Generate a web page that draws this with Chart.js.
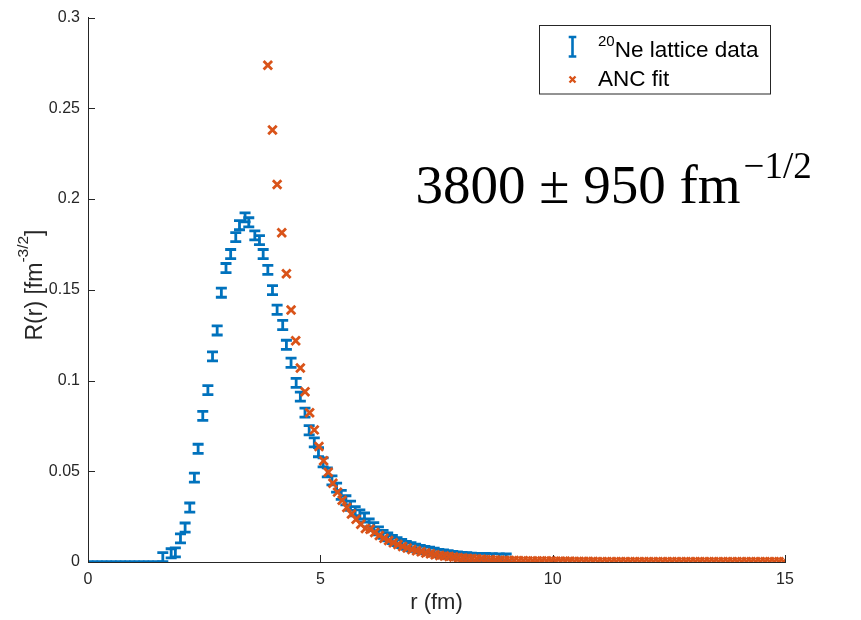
<!DOCTYPE html>
<html>
<head>
<meta charset="utf-8">
<script src="https://cdn.jsdelivr.net/npm/chart.js@4.4.1/dist/chart.umd.min.js"></script>
<style>
  html, body { margin: 0; padding: 0; background: #ffffff; }
  #wrap { width: 861px; height: 620px; }
</style>
</head>
<body>
<div id="wrap"><canvas id="c" width="861" height="620"></canvas></div>
<script>
// ---------------- data ----------------
const latticeR = [
  0.0, 0.1, 0.2, 0.3, 0.4, 0.5, 0.6, 0.7, 0.8, 0.9, 1.0, 1.1, 1.2, 1.3, 1.4, 1.5,
  1.61, 1.79, 1.88, 1.99, 2.09, 2.19, 2.29, 2.37, 2.47, 2.58, 2.68, 2.78, 2.87, 2.97,
  3.07, 3.18, 3.26, 3.38, 3.46, 3.59, 3.69, 3.77, 3.87, 3.97, 4.07, 4.19, 4.27, 4.37,
  4.48, 4.57, 4.67, 4.76, 4.87, 4.96, 5.06, 5.15, 5.25, 5.35, 5.45, 5.55, 5.65, 5.75,
  5.85, 5.95, 6.05, 6.15, 6.25, 6.35, 6.45, 6.55, 6.65, 6.75, 6.85, 6.95, 7.05, 7.15,
  7.25, 7.35, 7.45, 7.55, 7.65, 7.75, 7.85, 7.95, 8.05, 8.15, 8.25, 8.4, 8.55, 8.7,
  8.85, 9.0
];
const latticeValue = [
  0, 0, 0, 0, 0, 0, 0, 0, 0, 0, 0, 0, 0, 0, 0, 0,
  0.0027, 0.0048, 0.0053, 0.0130, 0.0190, 0.0300, 0.0465, 0.0624, 0.0805, 0.0947, 0.1133, 0.1276, 0.1484, 0.1620,
  0.1697, 0.1790, 0.1856, 0.1899, 0.1872, 0.1800, 0.1774, 0.1697, 0.1610, 0.1498, 0.1390, 0.1306, 0.1197, 0.1098,
  0.0987, 0.0911, 0.0823, 0.0726, 0.0659, 0.0605, 0.0549, 0.0494, 0.0450, 0.0410, 0.0370, 0.0340, 0.0310, 0.0280,
  0.0262, 0.0245, 0.0215, 0.0195, 0.0172, 0.0152, 0.0138, 0.0124, 0.0112, 0.0102, 0.0092, 0.0084, 0.0078, 0.0072,
  0.0066, 0.0062, 0.0056, 0.0050, 0.0046, 0.0042, 0.0039, 0.0036, 0.0033, 0.0031, 0.0029, 0.0028, 0.0027, 0.0026,
  0.0025, 0.0024
];
const latticeError = [
  0, 0, 0, 0, 0, 0, 0, 0, 0, 0, 0, 0, 0, 0, 0, 0,
  0.0025, 0.0025, 0.0025, 0.0025, 0.0025, 0.0025, 0.0025, 0.0025, 0.0025, 0.0025, 0.0025, 0.0025, 0.0025, 0.0025,
  0.0025, 0.0025, 0.0025, 0.0025, 0.0025, 0.0025, 0.0025, 0.0025, 0.0025, 0.0025, 0.0025, 0.0025, 0.0025, 0.0025,
  0.0025, 0.0025, 0.0025, 0.0025, 0.0025, 0.0025, 0.0025, 0.0025, 0.0025, 0.0025, 0.0025, 0.0025, 0.0025, 0.0025,
  0.0025, 0.0025, 0.0022, 0.0022, 0.0022, 0.0022, 0.0022, 0.0022, 0.0022, 0.0022, 0.0022, 0.0022, 0.0020, 0.0020,
  0.0020, 0.0020, 0.0020, 0.0020, 0.0020, 0.0020, 0.0020, 0.0020, 0.0020, 0.0020, 0.0020, 0.0020, 0.0020, 0.0020,
  0.0020, 0.0020
];

const ancR = [
  3.87, 3.97, 4.07, 4.17, 4.27, 4.37, 4.47, 4.57, 4.67, 4.77, 4.87, 4.97, 5.07, 5.17, 5.27, 5.37,
  5.47, 5.57, 5.67, 5.77, 5.87, 5.97, 6.07, 6.17, 6.27, 6.37, 6.47, 6.57, 6.67, 6.77, 6.87, 6.97,
  7.07, 7.17, 7.27, 7.37, 7.47, 7.57, 7.67, 7.77, 7.87, 7.97, 8.07, 8.17, 8.27, 8.37, 8.47, 8.57,
  8.67, 8.77, 8.87, 8.97, 9.07, 9.17, 9.27, 9.37, 9.47, 9.57, 9.67, 9.77, 9.87, 9.97, 10.07, 10.17,
  10.27, 10.37, 10.47, 10.57, 10.67, 10.77, 10.87, 10.97, 11.07, 11.17, 11.27, 11.37, 11.47, 11.57, 11.67, 11.77,
  11.87, 11.97, 12.07, 12.17, 12.27, 12.37, 12.47, 12.57, 12.67, 12.77, 12.87, 12.97, 13.07, 13.17, 13.27, 13.37,
  13.47, 13.57, 13.67, 13.77, 13.87, 13.97, 14.07, 14.17, 14.27, 14.37, 14.47, 14.57, 14.67, 14.77, 14.87, 14.97
];
const ancValue = [
  0.2737, 0.2381, 0.2080, 0.1814, 0.1589, 0.1389, 0.1219, 0.1069, 0.0938, 0.0823, 0.0728, 0.0637, 0.0558, 0.0494, 0.0434, 0.0385,
  0.0340, 0.0300, 0.0265, 0.0235, 0.0208, 0.0184, 0.0180, 0.0162, 0.0146, 0.0131, 0.0118, 0.0106, 0.0096, 0.0086, 0.0077, 0.0069,
  0.0062, 0.0056, 0.0050, 0.0045, 0.0040, 0.0036, 0.0033, 0.0030, 0.0027, 0.0024, 0.0022, 0.0020, 0.0018, 0.0016, 0.0015, 0.0013,
  0.0012, 0.0011, 0.0010, 0.0009, 0.0008, 0.0008, 0.0007, 0.0007, 0.0006, 0.0006, 0.0006, 0.0005, 0.0005, 0.0005, 0.0004, 0.0004,
  0.0004, 0.0004, 0.0003, 0.0003, 0.0003, 0.0003, 0.0003, 0.0002, 0.0002, 0.0002, 0.0002, 0.0002, 0.0002, 0.0002, 0.0001, 0.0001,
  0.0001, 0.0001, 0.0001, 0.0001, 0.0001, 0.0001, 0.0001, 0.0001, 0.0001, 0.0001, 0.0001, 0.0001, 0.0001, 0.0001, 0.0001, 0.0001,
  0.0001, 0.0001, 0.0001, 0.0001, 0.0001, 0.0001, 0.0001, 0.0001, 0.0001, 0.0001, 0.0001, 0.0001, 0.0001, 0.0001, 0.0001, 0.0001
];

const xTickLabels = ['0', '5', '10', '15'];
const yTickLabels = ['0', '0.05', '0.1', '0.15', '0.2', '0.25', '0.3'];
const latticeLabelSup = '20';
const latticeLabelMain = 'Ne lattice data';
const ancLabel = 'ANC fit';
const xTitle = 'r (fm)';
const yTitleMain = 'R(r) [fm';
const yTitleSup = '-3/2';
const yTitleEnd = ']';
const annotationMain = '3800 \u00B1 950 fm';
const annotationSup = '\u22121/2';

// ---------------- styles ----------------
const BLUE = '#0072BD';
const ORANGE = '#D95319';
const AXIS = '#262626';
const TXT = '#262626';
const SANS = '"Liberation Sans", Arial, Helvetica, sans-serif';
const SERIF = '"Liberation Serif", "Times New Roman", serif';

const latticePoints = latticeR.map((r, i) => ({ x: r, y: latticeValue[i] }));
const ancPoints = ancR.map((r, i) => ({ x: r, y: ancValue[i] }));

const errorBarPlugin = {
  id: 'errorBars',
  beforeDatasetsDraw(chart) {
    const { ctx, chartArea, scales: { x, y } } = chart;
    ctx.save();
    ctx.beginPath();
    ctx.rect(chartArea.left, chartArea.top - 2, chartArea.width + 4, chartArea.height + 2);
    ctx.clip();
    ctx.strokeStyle = BLUE;
    ctx.lineWidth = 2.8;
    const cap = 5.5;
    for (let i = 0; i < latticeR.length; i++) {
      const px = x.getPixelForValue(latticeR[i]);
      const lo = y.getPixelForValue(latticeValue[i] - latticeError[i]);
      const hi = y.getPixelForValue(latticeValue[i] + latticeError[i]);
      ctx.beginPath();
      ctx.moveTo(px, lo); ctx.lineTo(px, hi);
      ctx.moveTo(px - cap, lo); ctx.lineTo(px + cap, lo);
      ctx.moveTo(px - cap, hi); ctx.lineTo(px + cap, hi);
      ctx.stroke();
    }
    ctx.restore();
  }
};

const decorPlugin = {
  id: 'decor',
  beforeDatasetsDraw(chart) {
    // inward tick marks
    const { ctx, chartArea, scales: { x, y } } = chart;
    ctx.save();
    ctx.strokeStyle = AXIS;
    ctx.lineWidth = 1;
    x.ticks.forEach(t => {
      const px = Math.round(x.getPixelForValue(t.value)) + 0.5;
      ctx.beginPath(); ctx.moveTo(px, chartArea.bottom); ctx.lineTo(px, chartArea.bottom - 7); ctx.stroke();
    });
    y.ticks.forEach(t => {
      const py = Math.round(y.getPixelForValue(t.value)) + 0.5;
      ctx.beginPath(); ctx.moveTo(chartArea.left, py); ctx.lineTo(chartArea.left + 7, py); ctx.stroke();
    });
    ctx.restore();
  },
  afterDraw(chart) {
    const { ctx, chartArea, scales: { x, y } } = chart;
    ctx.save();
    // y-axis title with superscript
    ctx.fillStyle = TXT;
    ctx.textBaseline = 'alphabetic';
    ctx.textAlign = 'left';
    const mainFont = '23px ' + SANS;
    const supFont = '15.5px ' + SANS;
    ctx.font = mainFont; const w1 = ctx.measureText(yTitleMain).width; const w3 = ctx.measureText(yTitleEnd).width;
    ctx.font = supFont; const w2 = ctx.measureText(yTitleSup).width;
    const total = w1 + w2 + w3;
    ctx.translate(42, 285);
    ctx.rotate(-Math.PI / 2);
    let sx = -total / 2;
    ctx.font = mainFont; ctx.fillText(yTitleMain, sx, 0); sx += w1;
    ctx.font = supFont; ctx.fillText(yTitleSup, sx, -14); sx += w2;
    ctx.font = mainFont; ctx.fillText(yTitleEnd, sx, 0);
    ctx.restore();

    // legend
    ctx.save();
    const bx = 539.5, by = 25.5, bw = 231, bh = 68.5;
    ctx.fillStyle = '#ffffff';
    ctx.fillRect(bx, by, bw, bh);
    ctx.strokeStyle = AXIS; ctx.lineWidth = 1;
    ctx.strokeRect(bx, by, bw, bh);
    // errorbar icon
    ctx.strokeStyle = BLUE; ctx.lineWidth = 2.6;
    const ix = 572.5;
    ctx.beginPath();
    ctx.moveTo(ix, 37); ctx.lineTo(ix, 56.5);
    ctx.moveTo(ix - 3.8, 37); ctx.lineTo(ix + 3.8, 37);
    ctx.moveTo(ix - 3.8, 56.5); ctx.lineTo(ix + 3.8, 56.5);
    ctx.stroke();
    // cross icon
    ctx.strokeStyle = ORANGE; ctx.lineWidth = 2.4;
    const cy = 79.5, cr = 3;
    ctx.beginPath();
    ctx.moveTo(ix - cr, cy - cr); ctx.lineTo(ix + cr, cy + cr);
    ctx.moveTo(ix - cr, cy + cr); ctx.lineTo(ix + cr, cy - cr);
    ctx.stroke();
    // texts
    ctx.fillStyle = '#000000';
    ctx.textBaseline = 'alphabetic'; ctx.textAlign = 'left';
    ctx.font = '15px ' + SANS;
    ctx.fillText(latticeLabelSup, 598, 45.5);
    const sw = ctx.measureText(latticeLabelSup).width;
    ctx.font = '22.5px ' + SANS;
    ctx.fillText(latticeLabelMain, 598 + sw, 57);
    ctx.fillText(ancLabel, 598, 85.5);
    ctx.restore();

    // annotation
    ctx.save();
    ctx.fillStyle = '#000000';
    ctx.textBaseline = 'alphabetic'; ctx.textAlign = 'left';
    const ax = x.getPixelForValue(7.05), ay = y.getPixelForValue(0.198);
    ctx.font = '55px ' + SERIF;
    ctx.fillText(annotationMain, ax, ay);
    const aw = ctx.measureText(annotationMain).width;
    ctx.font = '37px ' + SERIF;
    ctx.fillText(annotationSup, ax + aw + 3, ay - 25);
    ctx.restore();
  }
};

new Chart(document.getElementById('c'), {
  type: 'scatter',
  data: {
    datasets: [
      {
        label: latticeLabelSup + latticeLabelMain,
        data: latticePoints,
        pointRadius: 0,
        pointHoverRadius: 0,
        borderColor: BLUE,
        backgroundColor: BLUE,
        showLine: false
      },
      {
        label: ancLabel,
        data: ancPoints,
        pointStyle: 'crossRot',
        pointRadius: 6,
        pointHoverRadius: 6,
        borderWidth: 2.8,
        borderColor: ORANGE,
        backgroundColor: ORANGE,
        showLine: false
      }
    ]
  },
  options: {
    responsive: false,
    animation: false,
    events: [],
    layout: { padding: { top: 14, right: 76, left: 0, bottom: 0 } },
    plugins: { legend: { display: false }, tooltip: { enabled: false } },
    scales: {
      x: {
        type: 'linear', min: 0, max: 15,
        afterFit: s => { s.height = 58; },
        grid: { display: false, drawTicks: false },
        border: { display: true, color: AXIS, width: 1 },
        ticks: {
          stepSize: 5, color: TXT, padding: 8, maxRotation: 0,
          font: { family: SANS, size: 16 },
          callback: (v) => { const i = xTickLabels.indexOf(String(v)); return i >= 0 ? xTickLabels[i] : ''; }
        },
        title: { display: true, text: xTitle, color: TXT, font: { family: SANS, size: 22 }, padding: { top: 0, bottom: 4 } }
      },
      y: {
        type: 'linear', min: 0, max: 0.3,
        afterFit: s => { s.width = 88; },
        grid: { display: false, drawTicks: false },
        border: { display: true, color: AXIS, width: 1 },
        ticks: {
          stepSize: 0.05, color: TXT, padding: 8,
          font: { family: SANS, size: 16 },
          callback: (v, idx) => yTickLabels[Math.round(v / 0.05)] ?? ''
        }
      }
    }
  },
  plugins: [errorBarPlugin, decorPlugin]
});
</script>
</body>
</html>
